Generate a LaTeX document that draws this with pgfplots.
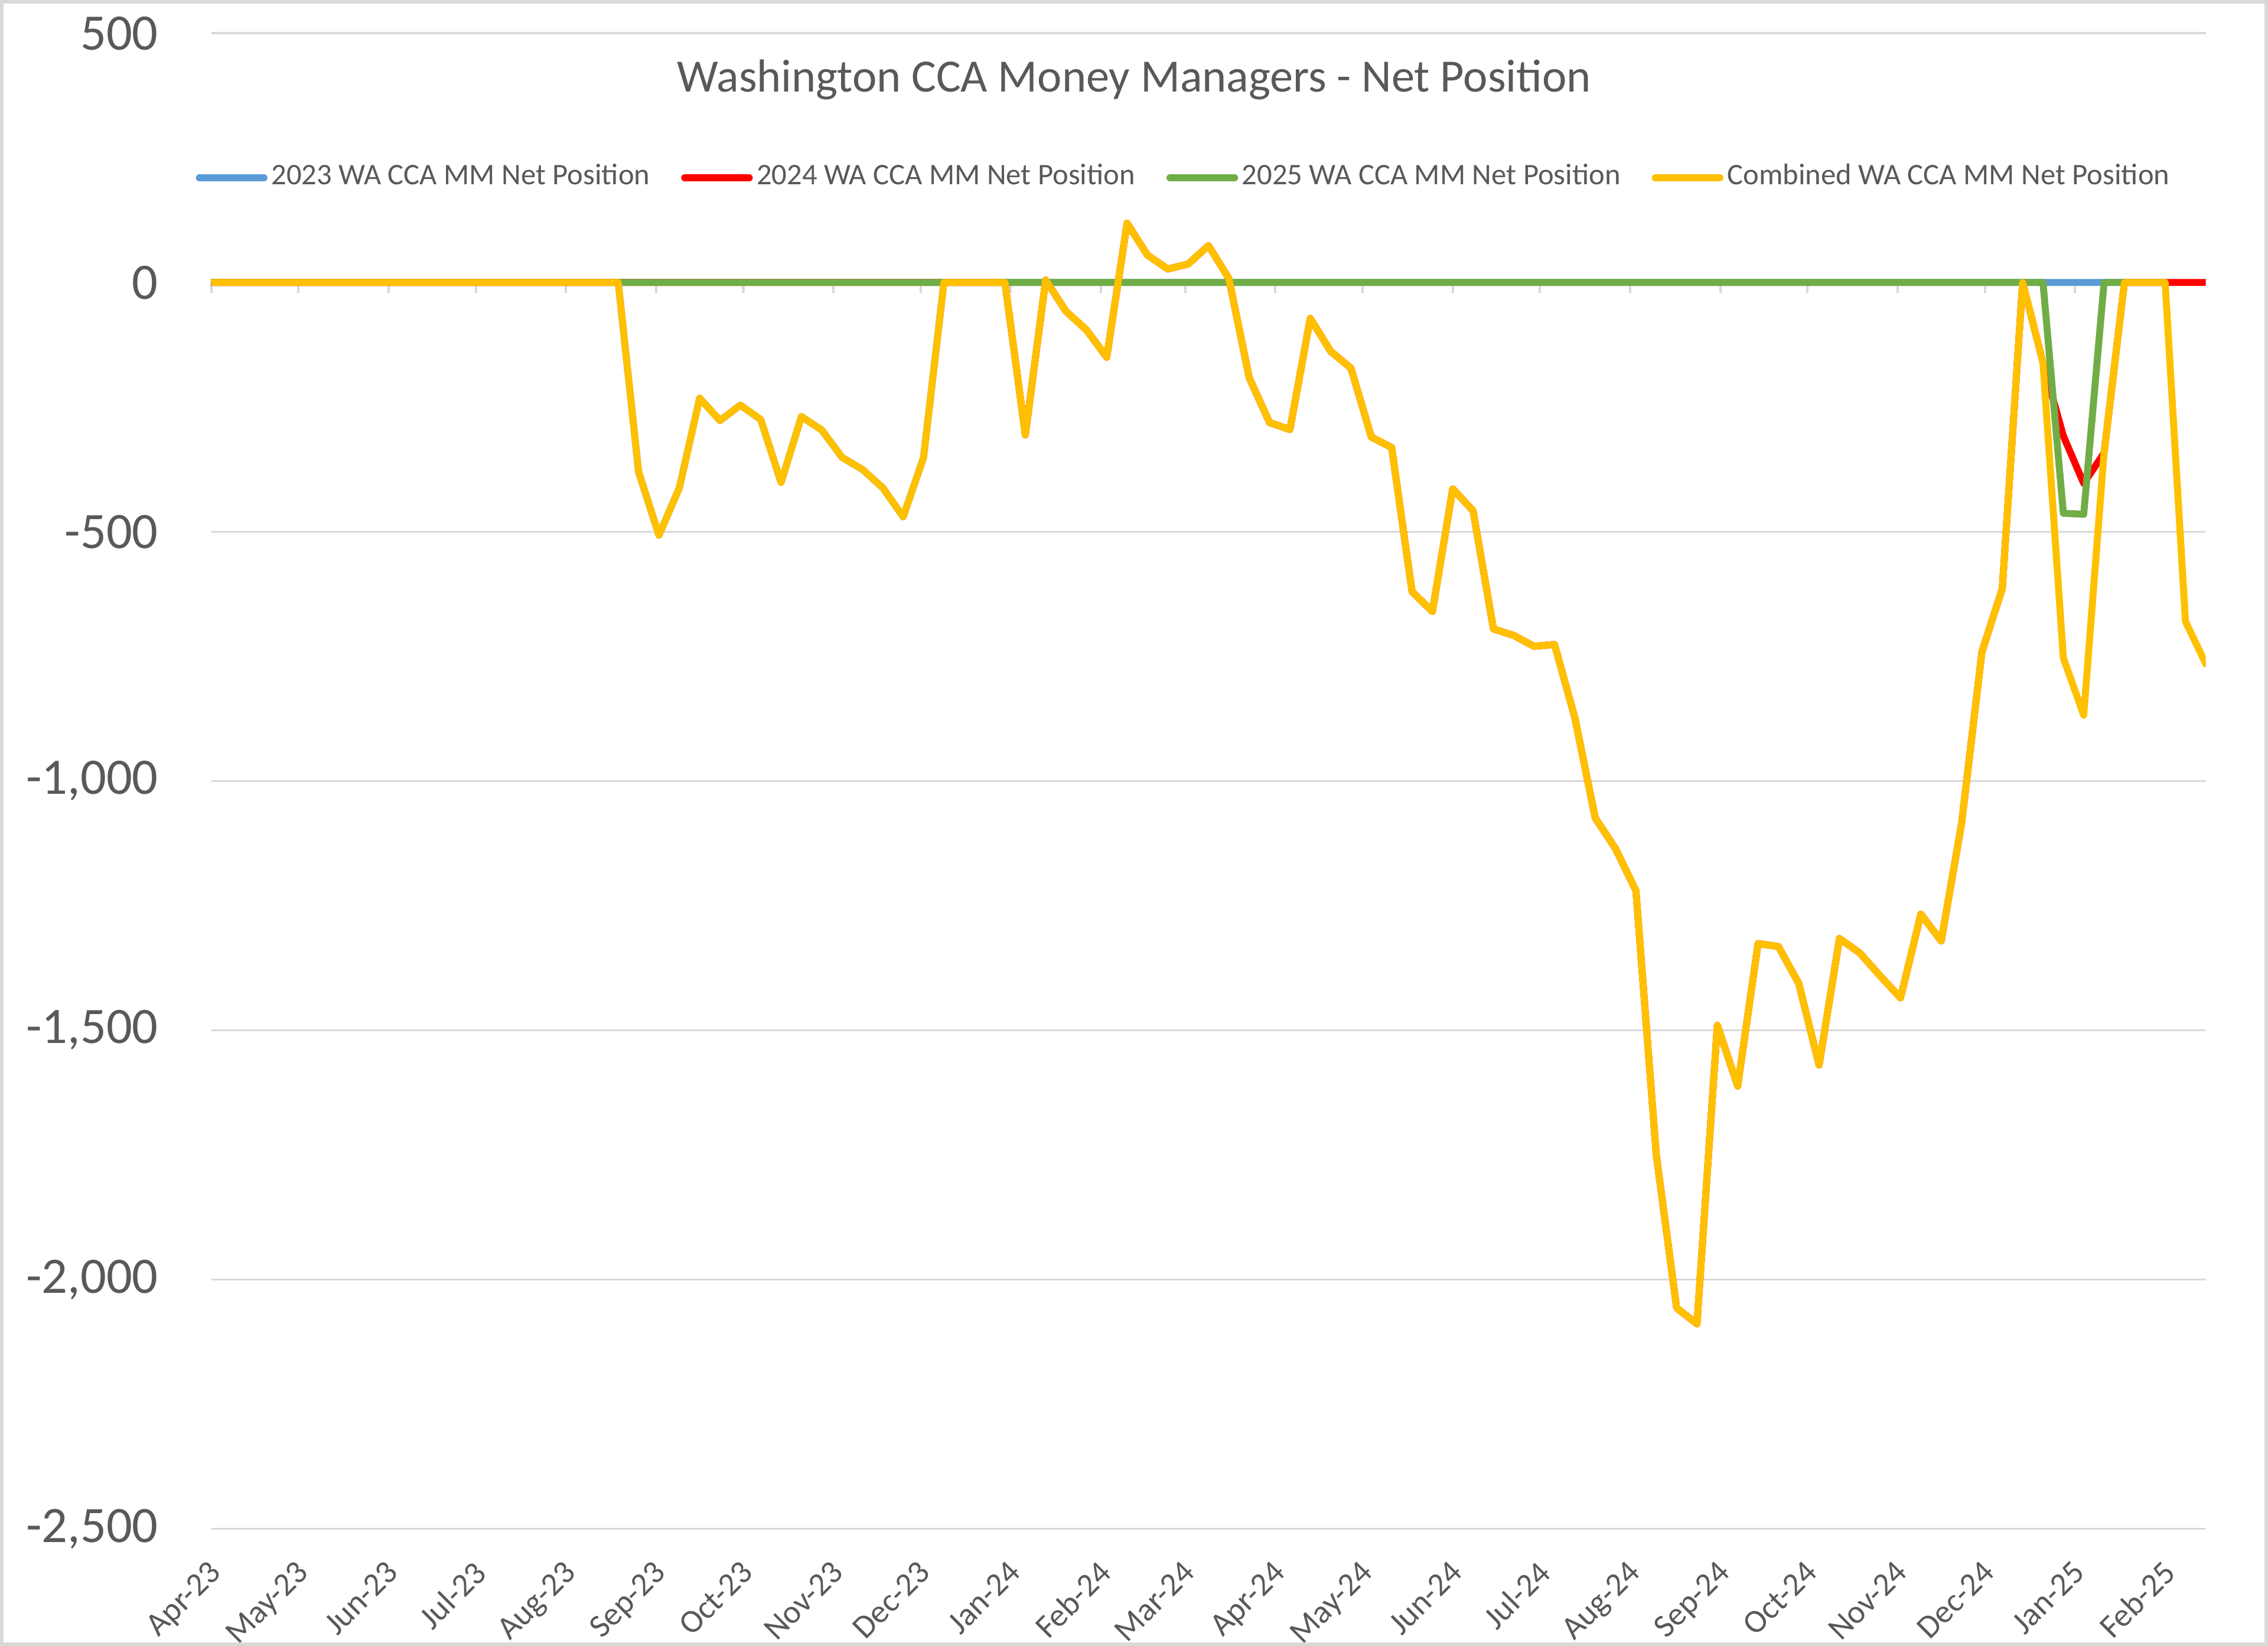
\documentclass[border=0pt]{standalone}
\usepackage{fontspec}
\setmainfont{Carlito}
\usepackage{pgfplots}
\usepackage{pgfplotstable}
\pgfplotsset{compat=1.18}
\definecolor{txt}{HTML}{595959}
\definecolor{gridc}{HTML}{D9D9D9}
\definecolor{c23}{HTML}{5B9BD5}
\definecolor{c24}{HTML}{FF0000}
\definecolor{c25}{HTML}{70AD47}
\definecolor{cmb}{HTML}{FFC000}

% x = days since first report (weekly)
\pgfplotstableread{
x y
0 0
7 0
14 0
21 0
28 0
35 0
42 0
49 0
56 0
63 0
70 0
77 0
84 0
91 0
98 0
105 0
112 0
119 0
126 0
133 0
140 0
147 -380
154 -507
161 -412
168 -232
175 -277
182 -246
189 -275
196 -401
203 -269
210 -296
217 -351
224 -375
231 -412
238 -470
245 -351
252 0
259 0
266 0
273 0
280 0
287 0
294 0
301 0
308 0
315 0
322 0
329 0
336 0
343 0
350 0
357 0
364 0
371 0
378 0
385 0
392 0
399 0
406 0
413 0
420 0
427 0
434 0
441 0
448 0
455 0
462 0
469 0
476 0
483 0
490 0
497 0
504 0
511 0
518 0
525 0
532 0
539 0
546 0
553 0
560 0
567 0
574 0
581 0
588 0
595 0
602 0
609 0
616 0
623 0
630 0
637 0
644 0
651 0
658 0
665 0
672 0
}\tblA

\pgfplotstableread{
x y
0 0
7 0
14 0
21 0
28 0
35 0
42 0
49 0
56 0
63 0
70 0
77 0
84 0
91 0
98 0
105 0
112 0
119 0
126 0
133 0
140 0
147 0
154 0
161 0
168 0
175 0
182 0
189 0
196 0
203 0
210 0
217 0
224 0
231 0
238 0
245 0
252 0
259 0
266 0
273 0
280 -306
287 5
294 -58
301 -95
308 -150
315 119
322 55
329 27
336 37
343 74
350 8
357 -191
364 -281
371 -295
378 -72
385 -138
392 -172
399 -310
406 -331
413 -620
420 -660
427 -414
434 -458
441 -695
448 -708
455 -730
462 -726
469 -873
476 -1074
483 -1136
490 -1220
497 -1750
504 -2057
511 -2089
518 -1490
525 -1612
532 -1326
539 -1332
546 -1406
553 -1570
560 -1316
567 -1345
574 -1391
581 -1435
588 -1267
595 -1321
602 -1085
609 -741
616 -614
623 0
630 -161
637 -308
644 -403
651 -342
658 0
665 0
672 0
679 0
686 0
}\tblB

\pgfplotstableread{
x y
0 0
7 0
14 0
21 0
28 0
35 0
42 0
49 0
56 0
63 0
70 0
77 0
84 0
91 0
98 0
105 0
112 0
119 0
126 0
133 0
140 0
147 0
154 0
161 0
168 0
175 0
182 0
189 0
196 0
203 0
210 0
217 0
224 0
231 0
238 0
245 0
252 0
259 0
266 0
273 0
280 0
287 0
294 0
301 0
308 0
315 0
322 0
329 0
336 0
343 0
350 0
357 0
364 0
371 0
378 0
385 0
392 0
399 0
406 0
413 0
420 0
427 0
434 0
441 0
448 0
455 0
462 0
469 0
476 0
483 0
490 0
497 0
504 0
511 0
518 0
525 0
532 0
539 0
546 0
553 0
560 0
567 0
574 0
581 0
588 0
595 0
602 0
609 0
616 0
623 0
630 0
637 -463
644 -465
651 0
658 0
665 0
672 0
}\tblC

\pgfplotstableread{
x y
0 0
7 0
14 0
21 0
28 0
35 0
42 0
49 0
56 0
63 0
70 0
77 0
84 0
91 0
98 0
105 0
112 0
119 0
126 0
133 0
140 0
147 -380
154 -507
161 -412
168 -232
175 -277
182 -246
189 -275
196 -401
203 -269
210 -296
217 -351
224 -375
231 -412
238 -470
245 -351
252 0
259 0
266 0
273 0
280 -306
287 5
294 -58
301 -95
308 -150
315 119
322 55
329 27
336 37
343 74
350 8
357 -191
364 -281
371 -295
378 -72
385 -138
392 -172
399 -310
406 -331
413 -620
420 -660
427 -414
434 -458
441 -695
448 -708
455 -730
462 -726
469 -873
476 -1074
483 -1136
490 -1220
497 -1750
504 -2057
511 -2089
518 -1490
525 -1612
532 -1326
539 -1332
546 -1406
553 -1570
560 -1316
567 -1345
574 -1391
581 -1435
588 -1267
595 -1321
602 -1085
609 -741
616 -614
623 0
630 -161
637 -753
644 -868
651 -342
658 0
665 0
672 0
679 -680
686 -765
}\tblD

\begin{document}
\begin{tikzpicture}
\useasboundingbox (0,0) rectangle (470.4pt,341.4pt);
\fill[white] (0,0) rectangle (470.4pt,341.4pt);
\draw[gridc, line width=0.7pt] (0.35pt,0.35pt) rectangle (470.05pt,341.05pt);

% tick marks on the category axis at y = 0
\begin{axis}[
  at={(43.8pt,24.3pt)}, anchor=south west,
  scale only axis, width=413.7pt, height=310.2pt,
  xmin=0, xmax=686, ymin=-2500, ymax=500,
  axis x line*=middle, axis y line=none,
  x axis line style={draw=none},
  xtick={0,30,61,91,122,153,183,214,244,275,306,335,366,396,427,457,488,519,549,580,610,641,672},
  xticklabels={},
  tick align=outside, major tick length=2.2pt,
  tick style={gridc, line width=0.5pt},
]
\end{axis}

\begin{axis}[
  at={(43.8pt,24.3pt)}, anchor=south west,
  scale only axis, width=413.7pt, height=310.2pt,
  xmin=0, xmax=686, ymin=-2500, ymax=500,
  axis line style={draw=none},
  major tick length=0pt,
  ytick={-2500,-2000,-1500,-1000,-500,0,500},
  xtick={0,30,61,91,122,153,183,214,244,275,306,335,366,396,427,457,488,519,549,580,610,641,672},
  xticklabels={Apr-23,May-23,Jun-23,Jul-23,Aug-23,Sep-23,Oct-23,Nov-23,Dec-23,Jan-24,Feb-24,Mar-24,Apr-24,May-24,Jun-24,Jul-24,Aug-24,Sep-24,Oct-24,Nov-24,Dec-24,Jan-25,Feb-25},
  ymajorgrids, grid style={gridc, line width=0.45pt},
  yticklabel style={font=\fontsize{10.6}{12}\selectfont, text=txt, inner sep=0pt, xshift=-10.8pt},
  xticklabel style={font=\fontsize{6.8}{8}\selectfont, text=txt, xshift=-0.8pt, yshift=-6pt, rotate=45, anchor=north east, inner sep=0pt},
  /pgf/number format/1000 sep={,},
  /pgf/number format/assume math mode=true,
  title={Washington CCA Money Managers - Net Position},
  title style={at={(axis description cs:0.4627,0.9497)}, anchor=center, font=\fontsize{9.6}{11}\selectfont, text=txt, inner sep=0pt},
  legend columns=4,
  legend style={at={(axis description cs:0.4895,0.9033)}, anchor=center, draw=none, fill=none,
    font=\fontsize{6.2}{7.5}\selectfont, text=txt,
    /tikz/every odd column/.append style={column sep=-1.2pt},
    /tikz/every even column/.append style={column sep=4.5pt}},
  legend image code/.code={\draw[#1, line width=1.45pt, line cap=round] (0pt,0pt) -- (13.4pt,0pt);},
  every axis plot/.append style={line width=1.45pt, line join=round, line cap=round},
]
\addplot[c23] table {\tblA};
\addlegendentry{2023 WA CCA MM Net Position}
\addplot[c24] table {\tblB};
\addlegendentry{2024 WA CCA MM Net Position}
\addplot[c25] table {\tblC};
\addlegendentry{2025 WA CCA MM Net Position}
\addplot[cmb] table {\tblD};
\addlegendentry{Combined WA CCA MM Net Position}
\end{axis}
\end{tikzpicture}
\end{document}
